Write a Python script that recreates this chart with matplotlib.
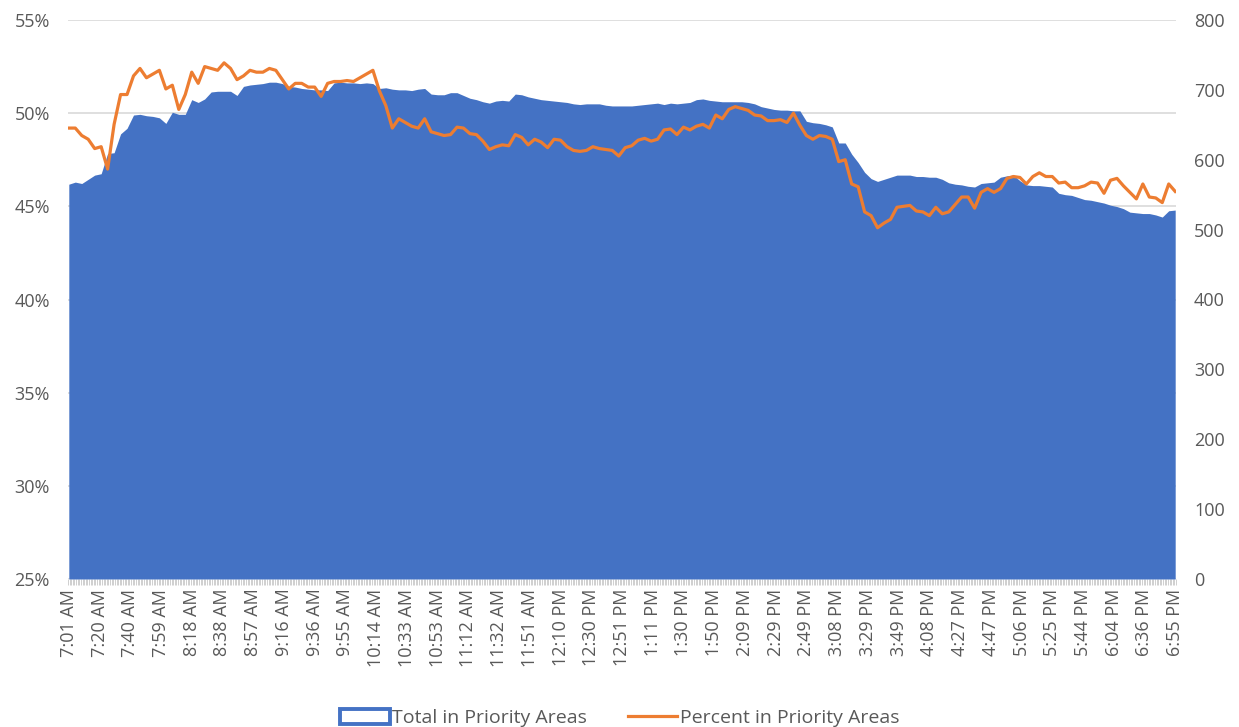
import numpy as np
import matplotlib
matplotlib.use("Agg")
import matplotlib.pyplot as plt
from matplotlib.patches import Patch
from matplotlib.lines import Line2D

plt.rcParams['font.family'] = ['Open Sans', 'DejaVu Sans']

# ---- data ----
n_categories = 685          # one category per time stamp
sample_step = 4             # values read every 4th category
label_step = 19             # a tick label every 19th category

tick_labels = ["7:01 AM", "7:20 AM", "7:40 AM", "7:59 AM", "8:18 AM", "8:38 AM", "8:57 AM",
               "9:16 AM", "9:36 AM", "9:55 AM", "10:14 AM", "10:33 AM", "10:53 AM", "11:12 AM",
               "11:32 AM", "11:51 AM", "12:10 PM", "12:30 PM", "12:51 PM", "1:11 PM", "1:30 PM",
               "1:50 PM", "2:09 PM", "2:29 PM", "2:49 PM", "3:08 PM", "3:29 PM", "3:49 PM",
               "4:08 PM", "4:27 PM", "4:47 PM", "5:06 PM", "5:25 PM", "5:44 PM", "6:04 PM",
               "6:36 PM", "6:55 PM"]

total_in_priority = [
    565, 568, 566, 572, 578, 580, 609, 610, 637, 645,
    664, 665, 663, 662, 660, 652, 668, 665, 665, 686,
    682, 687, 697, 698, 698, 698, 692, 705, 707, 708,
    709, 711, 711, 709, 705, 704, 702, 701, 700, 700,
    699, 710, 711, 710, 710, 709, 710, 709, 702, 703,
    701, 700, 700, 699, 701, 702, 694, 693, 693, 696,
    696, 692, 688, 686, 683, 681, 684, 685, 684, 694,
    693, 690, 688, 686, 685, 684, 683, 682, 680, 679,
    680, 680, 680, 678, 677, 677, 677, 677, 678, 679,
    680, 681, 679, 681, 680, 681, 682, 686, 687, 685,
    684, 683, 683, 683, 683, 682, 680, 676, 674, 672,
    671, 671, 670, 670, 655, 653, 652, 650, 647, 624,
    624, 608, 596, 582, 573, 569, 572, 575, 578, 578,
    578, 576, 576, 575, 575, 572, 567, 565, 564, 562,
    561, 566, 567, 568, 575, 577, 578, 570, 564, 563,
    563, 562, 561, 552, 550, 549, 546, 543, 542, 540,
    538, 535, 533, 530, 525, 524, 523, 523, 521, 518,
    527, 528]

percent_in_priority = [
    49.2, 49.2, 48.8, 48.6, 48.1, 48.2, 47.0, 49.4, 51.0, 51.0,
    52.0, 52.4, 51.9, 52.1, 52.3, 51.3, 51.5, 50.2, 51.0, 52.2,
    51.6, 52.5, 52.4, 52.3, 52.7, 52.4, 51.8, 52.0, 52.3, 52.2,
    52.2, 52.4, 52.3, 51.8, 51.3, 51.6, 51.6, 51.4, 51.4, 50.9,
    51.6, 51.7, 51.7, 51.75, 51.7, 51.9, 52.1, 52.3, 51.2, 50.4,
    49.2, 49.7, 49.5, 49.3, 49.2, 49.7, 49.0, 48.9, 48.8, 48.85,
    49.25, 49.2, 48.9, 48.85, 48.5, 48.05, 48.2, 48.3, 48.25, 48.85,
    48.7, 48.3, 48.6, 48.45, 48.15, 48.6, 48.55, 48.2, 48.0, 47.95,
    48.0, 48.2, 48.1, 48.05, 48.0, 47.7, 48.15, 48.25, 48.55, 48.65,
    48.5, 48.6, 49.1, 49.15, 48.85, 49.25, 49.1, 49.3, 49.4, 49.2,
    49.9, 49.7, 50.2, 50.35, 50.25, 50.15, 49.9, 49.85, 49.6, 49.6,
    49.65, 49.5, 50.0, 49.35, 48.8, 48.6, 48.8, 48.75, 48.6, 47.4,
    47.5, 46.2, 46.05, 44.7, 44.5, 43.85, 44.1, 44.3, 44.95, 45.0,
    45.05, 44.75, 44.7, 44.5, 44.95, 44.6, 44.7, 45.1, 45.5, 45.5,
    44.9, 45.75, 45.95, 45.75, 45.95, 46.5, 46.6, 46.55, 46.2, 46.6,
    46.8, 46.6, 46.6, 46.25, 46.3, 46.0, 46.0, 46.1, 46.3, 46.25,
    45.7, 46.4, 46.5, 46.1, 45.75, 45.4, 46.2, 45.5, 45.45, 45.2,
    46.2, 45.8]

pct_ticks = [25, 30, 35, 40, 45, 50, 55]
total_ticks = [0, 100, 200, 300, 400, 500, 600, 700, 800]

# ---- style ----
BLUE = "#4472C4"
ORANGE = "#ED7D31"
GRID = "#D9D9D9"
TXT = "#595959"
FS = 13
LEG_FS = 14

fig = plt.figure(figsize=(12.39, 7.27), dpi=100)
ax = fig.add_axes([68 / 1239, 1 - 579 / 727, (1176 - 68) / 1239, (579 - 20) / 727])
ax_tot = ax.twinx()
ax_line = ax.twinx()

x = np.arange(0, n_categories, sample_step)

# area (right axis)
ax_tot.fill_between(x, 0, total_in_priority, color=BLUE, linewidth=0)
ax_tot.set_ylim(0, 800)
ax_tot.set_yticks(total_ticks)
ax_tot.set_yticklabels([str(v) for v in total_ticks])

# line (left axis scale)
ax_line.plot(x, percent_in_priority, color=ORANGE, linewidth=2.3, solid_joinstyle='round')
ax_line.set_ylim(25, 55)
ax_line.set_yticks([])

# base axes: percent labels, gridlines, category ticks
ax.set_ylim(25, 55)
ax.set_yticks(pct_ticks)
ax.set_yticklabels([f"{v}%" for v in pct_ticks])
ax.grid(axis='y', color=GRID, linewidth=1.2)
ax.set_axisbelow(True)
ax.set_xlim(-0.5, n_categories - 0.5)
label_pos = np.arange(0, n_categories, label_step)
ax.set_xticks(label_pos)
ax.set_xticklabels(tick_labels, rotation=90)
ax.set_xticks(np.arange(-0.5, n_categories, 1), minor=True)
ax.tick_params(axis='x', which='major', length=0, pad=7, labelsize=FS, labelcolor=TXT)
ax.tick_params(axis='x', which='minor', length=4.5, width=0.6, color="#C8C8C8")
ax.tick_params(axis='y', length=0, pad=13, labelsize=FS, labelcolor=TXT)
ax_tot.tick_params(axis='y', length=0, pad=13, labelsize=FS, labelcolor=TXT)

for a in (ax, ax_tot, ax_line):
    for s in a.spines.values():
        s.set_visible(False)
    a.set_xlim(-0.5, n_categories - 0.5)
ax_tot.patch.set_visible(False)
ax_line.patch.set_visible(False)

handles = [Patch(facecolor='white', edgecolor=BLUE, linewidth=2.8),
           Line2D([0], [0], color=ORANGE, linewidth=2.3)]
fig.legend(handles, ["Total in Priority Areas", "Percent in Priority Areas"],
           loc='lower center', bbox_to_anchor=(0.5, -0.024), ncol=2, frameon=False,
           fontsize=LEG_FS, labelcolor=TXT, handlelength=2.55, handleheight=0.8,
           handletextpad=0.12, columnspacing=2.1)

fig.savefig("out.png", dpi=100, facecolor="white")
